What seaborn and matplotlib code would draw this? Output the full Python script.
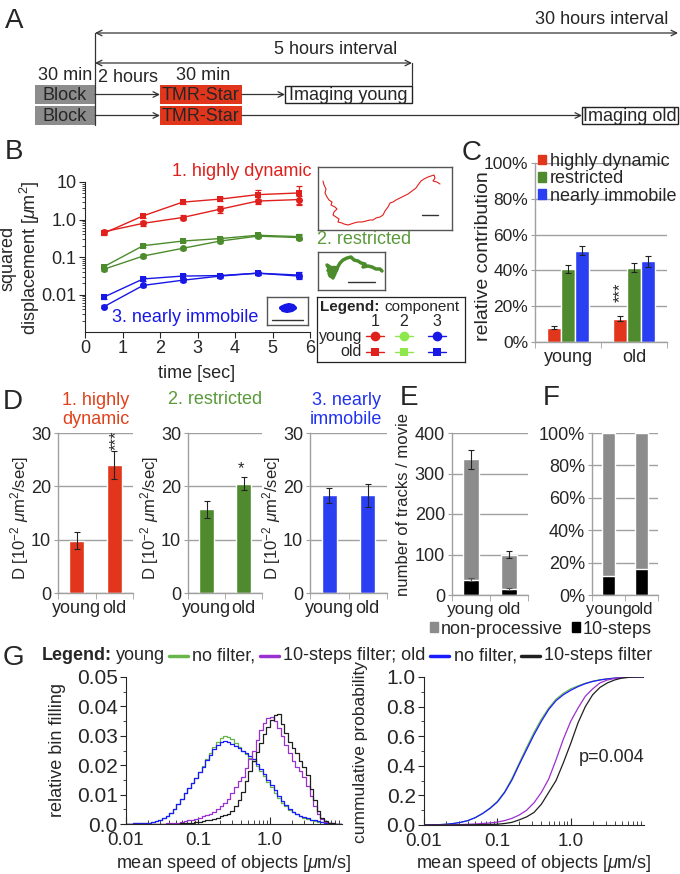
import numpy as np
import pandas as pd
import matplotlib
matplotlib.use("Agg")
import matplotlib.pyplot as plt
import seaborn as sns
from matplotlib.patches import Rectangle, Patch
from matplotlib.lines import Line2D
from matplotlib.offsetbox import TextArea, DrawingArea, HPacker, AnchoredOffsetbox

W, H = 680, 874

# ---------------- data ----------------
# B: squared displacement vs time lag (upper curve = old, lower = young)
msd_time = [0.5, 1.55, 2.6, 3.6, 4.6, 5.7]
msd_dyn_young = [0.47, 0.79, 1.13, 1.88, 3.1, 3.4]
msd_dyn_old = [0.43, 1.25, 2.9, 3.5, 4.6, 5.1]
msd_res_young = [0.047, 0.106, 0.17, 0.266, 0.36, 0.33]
msd_res_old = [0.055, 0.2, 0.266, 0.31, 0.38, 0.35]
msd_imm_young = [0.0047, 0.0175, 0.024, 0.031, 0.037, 0.031]
msd_imm_old = [0.0085, 0.026, 0.031, 0.032, 0.037, 0.033]
err_dyn_young = [0.05, 0.1, 0.15, 0.35, 0.5, 0.8]
err_dyn_old = [0.05, 0.15, 0.3, 0.45, 1.5, 2.7]
err_res_young = [0.004, 0.012, 0.02, 0.03, 0.04, 0.05]
err_res_old = [0.005, 0.02, 0.02, 0.03, 0.04, 0.05]
err_imm_young = [0.0004, 0.002, 0.003, 0.003, 0.004, 0.005]
err_imm_old = [0.001, 0.003, 0.004, 0.003, 0.004, 0.006]

# example trajectories (inset units)
red_track_x = [5, 6, 8, 7, 9, 11, 14, 13, 17, 19, 16, 15, 18, 21, 20, 24, 26, 30, 33, 36,
               40, 44, 48, 52, 55, 58, 62, 65, 67, 70, 72, 75, 78, 82, 86, 90, 94, 98, 100, 103,
               106, 110, 113, 116, 117, 115, 119, 122]
red_track_y = [14, 18, 22, 26, 30, 33, 35, 38, 40, 42, 45, 48, 50, 52, 55, 56, 57, 58, 57, 56,
               55, 55, 54, 53, 53, 51, 50, 48, 44, 40, 36, 35, 33, 31, 29, 27, 24, 21, 18, 14,
               12, 10, 9, 8, 11, 14, 15, 17]
green_track_x = [10, 14, 9, 13, 17, 11, 15, 19, 12, 16, 10, 14, 18, 13, 17, 11, 15, 20, 16, 13,
                 18, 22, 20, 25, 29, 33, 36, 40, 43, 47, 45, 50, 54, 58, 62, 64]
green_track_y = [7, 10, 13, 15, 12, 18, 21, 17, 24, 27, 30, 33, 28, 22, 19, 25, 31, 23, 14, 10,
                 8, 11, 6, 8, 6, 5, 8, 9, 11, 12, 15, 14, 15, 17, 17, 19]
blue_track_x = [14, 18, 22, 26, 28, 25, 20, 16, 15, 19, 24]
blue_track_y = [11, 9, 8, 9, 11, 13, 14, 13, 11, 10, 12]

# C: relative contribution (%)
age_groups = ["young", "old"]
component_names = ["highly dynamic", "restricted", "nearly immobile"]
contrib_dyn = [8.0, 13.0]
contrib_res = [41.0, 41.5]
contrib_imm = [51.0, 45.0]
contrib_dyn_err = [1.0, 1.5]
contrib_res_err = [2.2, 2.5]
contrib_imm_err = [2.5, 3.0]

# D: diffusion coefficients [1e-2 um^2/s]
diff_dyn = [9.8, 24.0]
diff_dyn_err = [1.6, 2.7]
diff_res = [15.7, 20.5]
diff_res_err = [1.6, 1.2]
diff_imm = [18.3, 18.3]
diff_imm_err = [1.4, 2.1]

# E: tracks per movie
tracks_total = [335, 100]
tracks_total_err = [23, 8]
tracks_10steps = [38, 15]
tracks_10steps_err = [3, 2]

# F: share of 10-step tracks (%)
share_total = [100, 100]
share_10steps = [11.5, 16.0]

# G: speed histograms, 0.05-decade bins from 0.01 to 10 um/s
hist_young_nofilter = [0.0001, 0.0001, 0.0002, 0.0002, 0.0003, 0.0004, 0.0005, 0.0007, 0.0010, 0.0015,
                       0.0020, 0.0027, 0.0036, 0.0050, 0.0067, 0.0085, 0.0104, 0.0122, 0.0140, 0.0158,
                       0.0176, 0.0196, 0.0220, 0.0240, 0.0262, 0.0280, 0.0292, 0.0298, 0.0296, 0.0288,
                       0.0275, 0.0262, 0.0250, 0.0238, 0.0226, 0.0213, 0.0198, 0.0180, 0.0162, 0.0143,
                       0.0125, 0.0107, 0.0089, 0.0073, 0.0060, 0.0049, 0.0040, 0.0033, 0.0027, 0.0022,
                       0.0018, 0.0014, 0.0011, 0.0008, 0.0006, 0.0004, 0.0002, 0.0001, 0.0001, 0.0]
hist_old_nofilter = [0.0001, 0.0001, 0.0002, 0.0002, 0.0003, 0.0004, 0.0005, 0.0007, 0.0010, 0.0015,
                     0.0020, 0.0027, 0.0036, 0.0050, 0.0067, 0.0085, 0.0104, 0.0122, 0.0140, 0.0158,
                     0.0176, 0.0195, 0.0218, 0.0236, 0.0256, 0.0270, 0.0280, 0.0283, 0.0280, 0.0273,
                     0.0265, 0.0258, 0.0250, 0.0240, 0.0230, 0.0220, 0.0203, 0.0186, 0.0170, 0.0150,
                     0.0133, 0.0115, 0.0095, 0.0078, 0.0064, 0.0052, 0.0042, 0.0034, 0.0028, 0.0024,
                     0.0019, 0.0015, 0.0012, 0.0009, 0.0006, 0.0004, 0.0002, 0.0001, 0.0001, 0.0]
hist_young_10steps = [0.0, 0.0, 0.0, 0.0, 0.0, 0.0, 0.0, 0.0, 0.0, 0.0,
                      0.0001, 0.0002, 0.0003, 0.0004, 0.0005, 0.0007, 0.0009, 0.0012, 0.0015, 0.0018,
                      0.0021, 0.0026, 0.0030, 0.0034, 0.0040, 0.0050, 0.0060, 0.0070, 0.0085, 0.0105,
                      0.0125, 0.0145, 0.0160, 0.0190, 0.0220, 0.0250, 0.0285, 0.0320, 0.0345, 0.0360,
                      0.0365, 0.0350, 0.0325, 0.0300, 0.0270, 0.0240, 0.0215, 0.0195, 0.0180, 0.0160,
                      0.0130, 0.0095, 0.0060, 0.0035, 0.0018, 0.0008, 0.0004, 0.0002, 0.0001, 0.0]
hist_old_10steps = [0.0, 0.0, 0.0, 0.0, 0.0, 0.0, 0.0, 0.0, 0.0, 0.0,
                    0.0, 0.0, 0.0, 0.0, 0.0001, 0.0002, 0.0003, 0.0004, 0.0005, 0.0006,
                    0.0008, 0.0010, 0.0012, 0.0015, 0.0018, 0.0022, 0.0026, 0.0030, 0.0035, 0.0045,
                    0.0060, 0.0080, 0.0110, 0.0145, 0.0180, 0.0215, 0.0245, 0.0275, 0.0305, 0.0330,
                    0.0355, 0.0370, 0.0375, 0.0340, 0.0310, 0.0280, 0.0260, 0.0240, 0.0215, 0.0195,
                    0.0165, 0.0120, 0.0080, 0.0045, 0.0022, 0.0010, 0.0005, 0.0002, 0.0001, 0.0]

# G: cumulative probability, 0.1-decade nodes from 0.01 to 10 um/s
cdf_young_nofilter = [0.0, 0.001, 0.002, 0.005, 0.010, 0.018, 0.030, 0.050, 0.078, 0.115,
                      0.16, 0.225, 0.315, 0.42, 0.525, 0.625, 0.715, 0.79, 0.85, 0.89,
                      0.92, 0.94, 0.958, 0.971, 0.981, 0.988, 0.993, 0.996, 0.998, 0.999, 1.0]
cdf_old_nofilter = [0.0, 0.001, 0.002, 0.005, 0.010, 0.018, 0.030, 0.050, 0.078, 0.112,
                    0.155, 0.22, 0.305, 0.41, 0.51, 0.61, 0.70, 0.78, 0.84, 0.88,
                    0.91, 0.935, 0.955, 0.97, 0.98, 0.987, 0.992, 0.996, 0.998, 0.999, 1.0]
cdf_young_10steps = [0.0, 0.0, 0.0, 0.001, 0.002, 0.003, 0.005, 0.007, 0.010, 0.014,
                     0.020, 0.030, 0.045, 0.068, 0.10, 0.15, 0.22, 0.31, 0.44, 0.58,
                     0.70, 0.79, 0.87, 0.92, 0.96, 0.98, 0.99, 0.996, 0.999, 1.0, 1.0]
cdf_old_10steps = [0.0, 0.0, 0.0, 0.0, 0.0, 0.001, 0.001, 0.002, 0.003, 0.004,
                   0.005, 0.010, 0.018, 0.035, 0.055, 0.085, 0.14, 0.22, 0.30, 0.42,
                   0.55, 0.69, 0.80, 0.88, 0.93, 0.96, 0.98, 0.993, 0.998, 1.0, 1.0]

# ---------------- style ----------------
RED = "#e0201c"
GREEN = "#4c8c2c"
BLUE = "#1818e6"
LIGHT_GREEN = "#8ee84c"
BAR_RED = "#e2361c"
BAR_GREEN = "#4f8b2e"
BAR_BLUE = "#2a3ef2"
GRAY = "#8c8c8c"
GRID = "#a0a0a0"
G_GREEN, G_PURPLE, G_BLUE, G_BLACK = "#66b64a", "#9b30d0", "#1a1aff", "#202020"

sns.set_style("ticks")
plt.rcParams["font.family"] = ["Liberation Sans", "DejaVu Sans"]
plt.rcParams["mathtext.fontset"] = "custom"
plt.rcParams["mathtext.rm"] = "Liberation Sans"
plt.rcParams["mathtext.it"] = "Liberation Sans:italic"
plt.rcParams["mathtext.bf"] = "Liberation Sans:bold"
plt.rcParams["axes.linewidth"] = 0.8

fig = plt.figure(figsize=(W / 100, H / 100), dpi=100)


def add_ax(x0, y0, x1, y1):
    # axes placed by pixel box, y measured from top
    return fig.add_axes([x0 / W, 1 - y1 / H, (x1 - x0) / W, (y1 - y0) / H])


def ftext(x, y, s, **kw):
    kw.setdefault("ha", "center")
    kw.setdefault("va", "center")
    return fig.text(x / W, 1 - y / H, s, **kw)


for letter, (lx, ly) in zip("ABCDEFG", [(14, 21), (14, 152), (472, 153), (13, 402),
                                        (409, 398), (551, 398), (13, 658)]):
    ftext(lx, ly, letter, fontsize=20)

# ---------------- A: protocol scheme ----------------
ax_a = add_ax(0, 0, W, 135)
ax_a.set_xlim(0, W)
ax_a.set_ylim(135, 0)
ax_a.axis("off")
arrow_kw = dict(arrowstyle="->", lw=0.9, color="#333333", shrinkA=0, shrinkB=0, mutation_scale=10)


def draw_box(x0, x1, y0, y1, text, fc, ec):
    ax_a.add_patch(Rectangle((x0, y0), x1 - x0, y1 - y0, facecolor=fc, edgecolor=ec, lw=1))
    ax_a.text((x0 + x1) / 2, (y0 + y1) / 2 + 1, text, ha="center", va="center", fontsize=13)


imaging_labels = ["Imaging young", "Imaging old"]
imaging_x = [(285, 412), (582, 678)]
for (y0, y1), label, (ix0, ix1) in zip([(85, 104), (106, 125)], imaging_labels, imaging_x):
    ym = (y0 + y1) / 2
    draw_box(35, 95, y0, y1, "Block", GRAY, "none")
    draw_box(160, 242, y0, y1, "TMR-Star", BAR_RED, "none")
    draw_box(ix0, ix1, y0 + 1, y1 - 1, label, "white", "#222222")
    ax_a.annotate("", xy=(160, ym), xytext=(95, ym), arrowprops=arrow_kw)
    ax_a.annotate("", xy=(ix0, ym), xytext=(242, ym), arrowprops=arrow_kw)

ax_a.plot([95, 95], [33, 125], color="#333333", lw=0.9)
ax_a.plot([412, 412], [63, 86], color="#333333", lw=0.9)
ax_a.annotate("", xy=(678, 33), xytext=(95, 33), arrowprops=dict(arrow_kw, arrowstyle="<->"))
ax_a.annotate("", xy=(412, 63), xytext=(95, 63), arrowprops=dict(arrow_kw, arrowstyle="<->"))
ax_a.text(668, 20, "30 hours interval", ha="right", va="center", fontsize=13)
ax_a.text(336, 50, "5 hours interval", ha="center", va="center", fontsize=13)
ax_a.text(65, 76, "30 min", ha="center", va="center", fontsize=13)
ax_a.text(98, 78, "2 hours", ha="left", va="center", fontsize=13)
ax_a.text(203, 76, "30 min", ha="center", va="center", fontsize=13)

# ---------------- B: MSD curves ----------------
ax_b = add_ax(85, 182, 310, 332)
msd = pd.DataFrame({
    "time": msd_time * 6,
    "msd": msd_dyn_young + msd_dyn_old + msd_res_young + msd_res_old + msd_imm_young + msd_imm_old,
    "component": ["dyn"] * 12 + ["res"] * 12 + ["imm"] * 12,
    "age": (["young"] * 6 + ["old"] * 6) * 3,
})
sns.lineplot(data=msd, x="time", y="msd", hue="component", style="age",
             palette={"dyn": RED, "res": GREEN, "imm": BLUE},
             markers={"young": "o", "old": "s"}, dashes=False, markersize=5,
             markeredgewidth=0, lw=1, legend=False, errorbar=None, ax=ax_b)
for vals, errs, col in [(msd_dyn_young, err_dyn_young, RED), (msd_dyn_old, err_dyn_old, RED),
                        (msd_res_young, err_res_young, GREEN), (msd_res_old, err_res_old, GREEN),
                        (msd_imm_young, err_imm_young, BLUE), (msd_imm_old, err_imm_old, BLUE)]:
    ax_b.errorbar(msd_time, vals, yerr=errs, fmt="none", ecolor=col, elinewidth=0.9,
                  capsize=2.5, capthick=0.9)
ax_b.set_yscale("log")
ax_b.set_ylim(1e-3, 10)
ax_b.set_xlim(0, 6)
ax_b.set_yticks([0.01, 0.1, 1, 10], ["0.01", "0.1", "1.0", "10"])
ax_b.set_xticks(range(7))
ax_b.tick_params(labelsize=13, direction="out", length=4, width=0.8, pad=2)
ax_b.tick_params(which="minor", length=2.5, width=0.6)
ax_b.set_xlabel("")
ax_b.set_ylabel("")
sns.despine(ax=ax_b)
ftext(21, 258, "squared\ndisplacement [$\\mu$m$^2$]", rotation=90, fontsize=13, linespacing=1.05)
ftext(197, 373, "time [sec]", fontsize=13)
ftext(312, 172, "1. highly dynamic", ha="right", color=RED, fontsize=13)
ftext(317, 240, "2. restricted", ha="left", color="#5a9a3a", fontsize=13)
ftext(112, 317, "3. nearly immobile", ha="left", color=BLUE, fontsize=13)


def track_inset(box, tx, ty, color, lw, bar):
    x0, y0, x1, y1 = box
    ax = add_ax(x0, y0, x1, y1)
    ax.set_xlim(0, x1 - x0)
    ax.set_ylim(y1 - y0, 0)
    ax.set_xticks([])
    ax.set_yticks([])
    for s in ax.spines.values():
        s.set_color("#555555")
        s.set_linewidth(1)
    sns.lineplot(x=tx, y=ty, sort=False, color=color, lw=lw, ax=ax, errorbar=None)
    ax.plot(bar[:2], [bar[2], bar[2]], color="#333333", lw=1)
    ax.set_xlabel("")
    ax.set_ylabel("")


track_inset((318, 167, 452, 230), red_track_x, red_track_y, RED, 0.8, (104, 120, 48))
track_inset((318, 252, 385, 290), green_track_x, green_track_y, GREEN, 2.5, (30, 57, 30))
track_inset((267, 297, 308, 325), blue_track_x, blue_track_y, BLUE, 3.0, (5, 36, 23))

# B legend table
ax_leg = add_ax(317, 297, 465, 362)
ax_leg.set_xlim(0, 148)
ax_leg.set_ylim(65, 0)
ax_leg.set_xticks([])
ax_leg.set_yticks([])
for s in ax_leg.spines.values():
    s.set_color("#222222")
    s.set_linewidth(0.9)
hdr = HPacker(children=[TextArea("Legend:", textprops=dict(fontsize=11, fontweight="bold")),
                        TextArea("component", textprops=dict(fontsize=11))], sep=3, pad=0)
ax_leg.add_artist(AnchoredOffsetbox(loc="upper left", child=hdr, pad=0.1, borderpad=0.15,
                                    frameon=False))
for cx, num, col in zip([58, 87, 120], ["1", "2", "3"], [RED, LIGHT_GREEN, BLUE]):
    ax_leg.text(cx, 25, num, ha="center", va="center", fontsize=11.5)
    for ry, mk in [(39, "o"), (55, "s")]:
        ax_leg.plot([cx - 9, cx + 9], [ry, ry], color=col, lw=1)
        ax_leg.plot([cx], [ry], marker=mk, color=col, ms=7 if mk == "o" else 5.5, mew=0)
ax_leg.text(45, 39, "young", ha="right", va="center", fontsize=11.5)
ax_leg.text(45, 55, "old", ha="right", va="center", fontsize=11.5)


def style_bar_axes(ax, labelsize=13):
    ax.set_xlabel("")
    ax.set_ylabel("")
    ax.yaxis.grid(True, color=GRID, lw=1)
    ax.set_axisbelow(True)
    sns.despine(ax=ax)
    for s in ["left", "bottom"]:
        ax.spines[s].set_color(GRID)
        ax.spines[s].set_linewidth(1)
    ax.set_xticks([-0.5, 0.5, 1.5], minor=True)
    ax.tick_params(axis="x", which="major", length=0, labelsize=labelsize, pad=5)
    ax.tick_params(axis="x", which="minor", length=4, color=GRID)
    ax.tick_params(axis="y", length=3, color=GRID, labelsize=labelsize, pad=2)
    ax.set_xlim(-0.5, 1.5)


# ---------------- C: relative contributions ----------------
ax_c = add_ax(535, 163, 667, 342)
contrib = pd.DataFrame({
    "group": age_groups * 3,
    "value": contrib_dyn + contrib_res + contrib_imm,
    "component": [c for c in component_names for _ in age_groups],
})
c_width = 0.64
sns.barplot(data=contrib, x="group", y="value", hue="component", order=age_groups,
            hue_order=component_names, palette=[BAR_RED, BAR_GREEN, BAR_BLUE],
            width=c_width, saturation=1, errorbar=None, legend=False, ax=ax_c)
for k, (vals, errs) in enumerate([(contrib_dyn, contrib_dyn_err), (contrib_res, contrib_res_err),
                                  (contrib_imm, contrib_imm_err)]):
    xs = np.arange(len(age_groups)) - c_width / 2 + c_width / 3 * (k + 0.5)
    ax_c.errorbar(xs, vals, yerr=errs, fmt="none", ecolor="#222222", elinewidth=0.8,
                  capsize=2, capthick=0.8)
ax_c.set_ylim(0, 100)
ax_c.set_yticks(range(0, 101, 20), [f"{v}%" for v in range(0, 101, 20)])
style_bar_axes(ax_c, labelsize=13)
ax_c.tick_params(axis="y", labelsize=12.5)
ax_c.legend(handles=[Patch(color=c) for c in [BAR_RED, BAR_GREEN, BAR_BLUE]],
            labels=component_names, loc="upper left", bbox_to_anchor=(538 / W, 1 - 153 / H),
            bbox_transform=fig.transFigure, frameon=False, fontsize=13, handlelength=0.45,
            handleheight=0.45, handletextpad=0.2, labelspacing=0.02, borderpad=0,
            borderaxespad=0)
ftext(483, 256, "relative contribution", rotation=90, fontsize=14)
ftext(620, 292, "***", rotation=90, fontsize=12)

# ---------------- D: diffusion coefficients ----------------
d_specs = [((58, 433, 133, 593), diff_dyn, diff_dyn_err, BAR_RED),
           ((188, 433, 262, 593), diff_res, diff_res_err, BAR_GREEN),
           ((310, 433, 387, 593), diff_imm, diff_imm_err, BAR_BLUE)]
for box, vals, errs, col in d_specs:
    ax = add_ax(*box)
    sns.barplot(x=age_groups, y=vals, color=col, saturation=1, width=0.4, errorbar=None, ax=ax)
    ax.errorbar([0, 1], vals, yerr=errs, fmt="none", ecolor="#222222", elinewidth=0.8,
                capsize=2, capthick=0.8)
    ax.set_ylim(0, 30)
    ax.set_yticks([0, 10, 20, 30])
    style_bar_axes(ax)
    ftext(box[0] - 38, 518, "D [10$^{-2}$ $\\mu$m$^2$/sec]", rotation=90, fontsize=12)

ftext(96, 410, "1. highly\ndynamic", color="#e0421c", fontsize=13, linespacing=1.2)
ftext(215, 399, "2. restricted", color="#5a9a3a", fontsize=13)
ftext(346, 410, "3. nearly\nimmobile", color="#2233ee", fontsize=13, linespacing=1.2)
ftext(116, 440, "***", rotation=90, fontsize=12)
ftext(241, 469, "*", fontsize=12)

# ---------------- E: tracks per movie ----------------
ax_e = add_ax(452, 433, 528, 595)
sns.barplot(x=age_groups, y=tracks_total, color=GRAY, saturation=1, width=0.4, errorbar=None, ax=ax_e)
sns.barplot(x=age_groups, y=tracks_10steps, color="black", saturation=1, width=0.4, errorbar=None, ax=ax_e)
ax_e.errorbar([0, 1], tracks_total, yerr=tracks_total_err, fmt="none", ecolor="#222222",
              elinewidth=0.8, capsize=2, capthick=0.8)
ax_e.errorbar([0, 1], tracks_10steps, yerr=tracks_10steps_err, fmt="none", ecolor="#555555",
              elinewidth=0.8, capsize=2, capthick=0.8)
ax_e.set_ylim(0, 400)
ax_e.set_yticks(range(0, 401, 100))
style_bar_axes(ax_e)
ax_e.tick_params(axis="x", labelsize=12.5)
ftext(404, 505, "number of tracks / movie", rotation=90, fontsize=12)

# ---------------- F: share of processive tracks ----------------
ax_f = add_ax(592, 433, 658, 595)
sns.barplot(x=age_groups, y=share_total, color=GRAY, saturation=1, width=0.42, errorbar=None, ax=ax_f)
sns.barplot(x=age_groups, y=share_10steps, color="black", saturation=1, width=0.42, errorbar=None, ax=ax_f)
ax_f.set_ylim(0, 100)
ax_f.set_yticks(range(0, 101, 20), [f"{v}%" for v in range(0, 101, 20)])
style_bar_axes(ax_f)
ax_f.tick_params(axis="x", labelsize=12)

fig.legend(handles=[Patch(color=GRAY), Patch(color="black")], labels=["non-processive", "10-steps"],
           loc="center", bbox_to_anchor=(541 / W, 1 - 629 / H), ncol=2, frameon=False,
           fontsize=13, handlelength=0.45, handleheight=0.45, handletextpad=0.15,
           columnspacing=0.5, borderpad=0)

# ---------------- G: speed distributions ----------------
hist_edges = 10 ** np.arange(-2.0, 1.0001, 0.05)
cdf_nodes = 10 ** np.arange(-2.0, 1.0001, 0.1)

ax_gl = add_ax(126, 677, 342, 824)
ax_gr = add_ax(424, 677, 644, 825)
for ax in (ax_gl, ax_gr):
    ax.set_xscale("log")

for vals, col in [(hist_young_nofilter, G_GREEN), (hist_old_nofilter, G_BLUE),
                  (hist_young_10steps, G_PURPLE), (hist_old_10steps, G_BLACK)]:
    sns.lineplot(x=hist_edges, y=list(vals) + [vals[-1]], drawstyle="steps-post", color=col,
                 lw=0.9, errorbar=None, ax=ax_gl)
for vals, col in [(cdf_young_nofilter, G_GREEN), (cdf_old_nofilter, G_BLUE),
                  (cdf_young_10steps, G_PURPLE), (cdf_old_10steps, G_BLACK)]:
    sns.lineplot(x=cdf_nodes, y=vals, color=col, lw=0.9, errorbar=None, ax=ax_gr)

ax_gl.set_ylim(0, 0.05)
ax_gl.set_yticks([0, 0.01, 0.02, 0.03, 0.04, 0.05],
                 ["0.0", "0.01", "0.02", "0.03", "0.04", "0.05"])
ax_gl.set_yticks(np.arange(0.005, 0.05, 0.01), minor=True)
ax_gr.set_ylim(0, 1.0)
ax_gr.set_yticks([0, 0.2, 0.4, 0.6, 0.8, 1.0], ["0.0", "0.2", "0.4", "0.6", "0.8", "1.0"])
ax_gr.set_yticks(np.arange(0.1, 1.0, 0.2), minor=True)
for ax in (ax_gl, ax_gr):
    ax.set_xlim(0.01, 10)
    ax.set_xticks([0.01, 0.1, 1.0], ["0.01", "0.1", "1.0"])
    ax.set_xlabel("")
    ax.set_ylabel("")
    sns.despine(ax=ax)
    ax.tick_params(axis="y", labelsize=15, direction="out", length=4, width=0.8, pad=2)
    ax.tick_params(axis="y", which="minor", length=2.5, width=0.6, direction="out")
    ax.tick_params(axis="x", labelsize=13.5, direction="in", length=5, width=0.8, pad=6)
    ax.tick_params(axis="x", which="minor", direction="in", length=3, width=0.6)

ftext(58, 750, "relative bin filling", rotation=90, fontsize=13)
ftext(361, 752, "cummulative probability", rotation=90, fontsize=12.5)
ftext(234, 864, "mean speed of objects [$\\mu$m/s]", fontsize=13)
ftext(534, 864, "mean speed of objects [$\\mu$m/s]", fontsize=13)
ftext(612, 758, "p=0.004", fontsize=13)


def legend_line(color):
    da = DrawingArea(14, 8, 0, 0)
    da.add_artist(Line2D([0, 14], [4, 4], color=color, lw=2.5))
    return da


tp = dict(fontsize=13)
g_leg = HPacker(children=[TextArea("Legend:", textprops=dict(fontsize=13, fontweight="bold")),
                          TextArea("young", textprops=tp), legend_line(G_GREEN),
                          TextArea("no filter,", textprops=tp), legend_line(G_PURPLE),
                          TextArea("10-steps filter; old", textprops=tp), legend_line(G_BLUE),
                          TextArea("no filter,", textprops=tp), legend_line(G_BLACK),
                          TextArea("10-steps filter", textprops=tp)],
                align="center", pad=0, sep=3)
fig.add_artist(AnchoredOffsetbox(loc="center", child=g_leg, pad=0, borderpad=0, frameon=False,
                                 bbox_to_anchor=(347 / W, 1 - 656 / H),
                                 bbox_transform=fig.transFigure))

fig.savefig("out.png", dpi=100)
